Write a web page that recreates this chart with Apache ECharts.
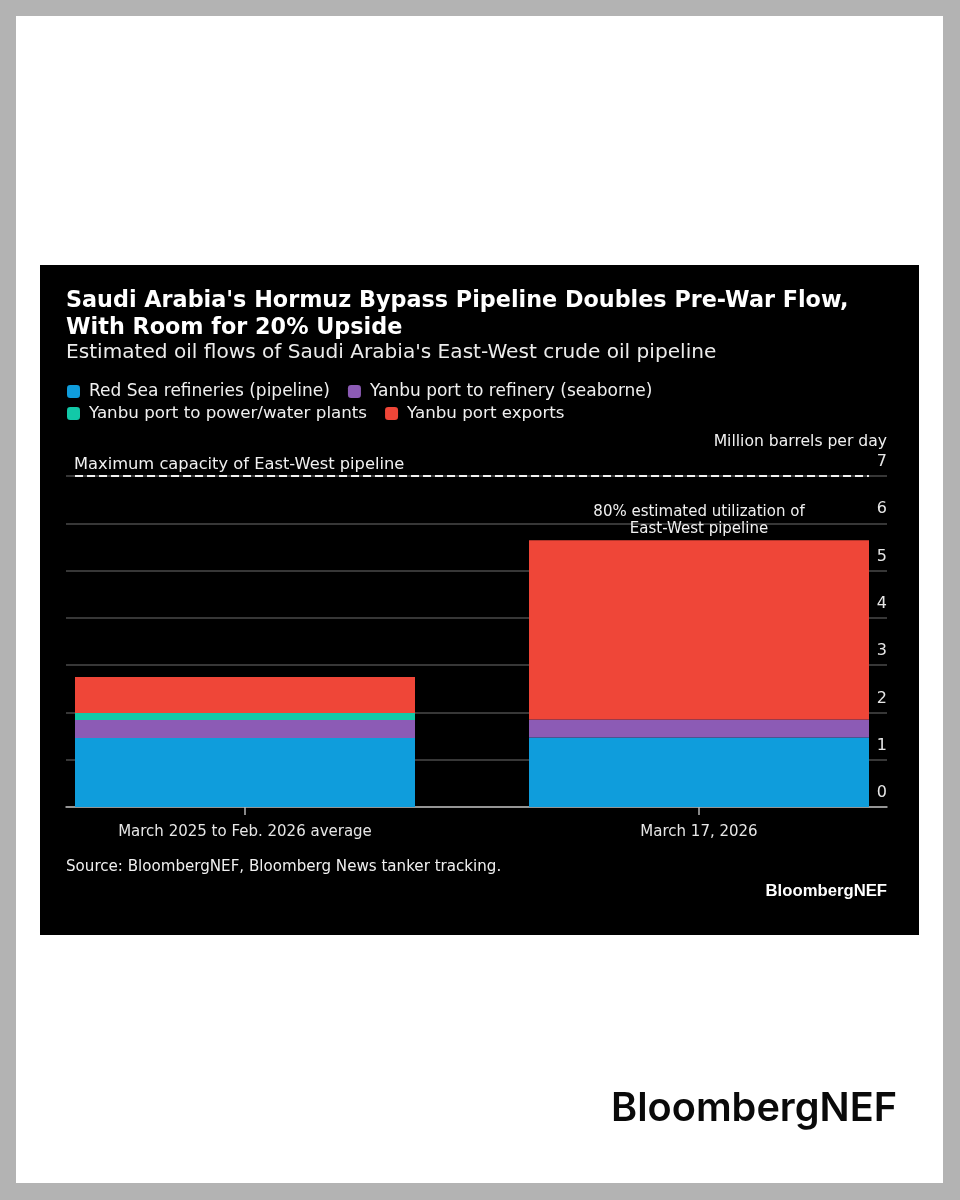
<!DOCTYPE html>
<html><head><meta charset="utf-8">
<style>html,body{margin:0;padding:0;background:#b3b3b3}#c{width:960px;height:1200px}</style>
<script src="https://cdn.jsdelivr.net/npm/echarts@6/dist/echarts.min.js"></script>
</head><body><div id="c"></div>
<script>
const categories = ['March 2025 to Feb. 2026 average', 'March 17, 2026'];
const redSea = [1.46, 1.47];
const portRefinery = [0.38, 0.38];
const powerWater = [0.15, 0];
const exportsYanbu = [0.76, 3.79];
const capacity = 7;
const yTicks = [0, 1, 2, 3, 4, 5, 6, 7];

const titleText = "Saudi Arabia's Hormuz Bypass Pipeline Doubles Pre-War Flow,\nWith Room for 20% Upside";
const subtitleText = "Estimated oil flows of Saudi Arabia's East-West crude oil pipeline";
const unitText = 'Million barrels per day';
const sourceText = 'Source: BloombergNEF, Bloomberg News tanker tracking.';

const names = ['Red Sea refineries (pipeline)', 'Yanbu port to refinery (seaborne)', 'Yanbu port to power/water plants', 'Yanbu port exports'];
const colors = ['#0f9ddc', '#8c5bb5', '#12c9a8', '#ef4638'];
const values = [redSea, portRefinery, powerWater, exportsYanbu];

const font = '"DejaVu Sans"';

function legend(items, left, top, size) {
  return { data: items, left, top, orient: 'horizontal', itemWidth: 13, itemHeight: 13, itemGap: 18,
    icon: 'roundRect', padding: 0, selectedMode: false,
    textStyle: { color: '#f0f0f0', fontFamily: font, fontSize: size, padding: [0, 0, 0, 4] } };
}
function txt(x, y, text, size, extra) {
  return { type: 'text', x, y, z: 50, silent: true,
    style: Object.assign({ text, fill: '#f0f0f0', fontFamily: font, fontSize: size }, extra || {}) };
}

const chart = echarts.init(document.getElementById('c'), null, { renderer: 'canvas' });
chart.setOption({
  animation: false,
  backgroundColor: '#b3b3b3',
  grid: [
    { left: 18, right: 34, top: 476, bottom: 393 },
    { left: 66, right: 73, top: 476, bottom: 393 }
  ],
  legend: [legend(names.slice(0, 2), 67, 383, 17), legend(names.slice(2), 67, 405, 16.7)],
  xAxis: [
    { type: 'category', gridIndex: 0, data: categories,
      axisLine: { show: false },
      axisTick: { show: true, alignWithLabel: true, length: 8, lineStyle: { color: '#b5b5b5', width: 1.5 } },
      axisLabel: { margin: 18, color: '#e6e6e6', fontFamily: font, fontSize: 15 } },
    { type: 'value', gridIndex: 1, min: 0, max: 1, splitLine: { show: false },
      axisLine: { show: true, onZero: false, lineStyle: { color: '#b5b5b5', width: 1.5 } },
      axisTick: { show: false }, axisLabel: { show: false } }
  ],
  yAxis: [
    { type: 'value', gridIndex: 0, min: 0, max: 7, interval: 1, show: false },
    { type: 'value', gridIndex: 1, position: 'right', min: yTicks[0], max: yTicks[yTicks.length - 1], interval: 1,
      axisLine: { show: false }, axisTick: { show: false },
      splitLine: { show: true, lineStyle: { color: '#4a4a4a', width: 1.5 } },
      axisLabel: { inside: true, margin: 0, align: 'right', verticalAlign: 'bottom', color: '#e6e6e6',
        fontFamily: font, fontSize: 16, lineHeight: 28, showMinLabel: true, showMaxLabel: true } }
  ],
  series: names.map((name, i) => ({
    name, type: 'bar', stack: 'flows', barWidth: 340, xAxisIndex: 0, yAxisIndex: 0,
    itemStyle: { color: colors[i] },
    data: values[i]
  })).concat([{
    name: 'Maximum capacity', type: 'line', xAxisIndex: 1, yAxisIndex: 1, symbol: 'none', silent: true, z: 5,
    lineStyle: { color: '#f2f2f2', type: [8, 4], width: 2 },
    data: [[0.011, capacity], [0.978, capacity]]
  }]),
  graphic: [
    { type: 'rect', z: -10, shape: { x: 16, y: 16, width: 927, height: 1167 }, style: { fill: '#ffffff' } },
    { type: 'rect', z: -9, shape: { x: 40, y: 265, width: 879, height: 670 }, style: { fill: '#000000' } },
    txt(66, 288, titleText, 22.3, { fontWeight: 'bold', fill: '#ffffff', lineHeight: 27 }),
    txt(66, 343, subtitleText, 20.1, { fill: '#ececec' }),
    txt(887, 434, unitText, 15.6, { align: 'right' }),
    txt(74, 457, 'Maximum capacity of East-West pipeline', 16.3),
    txt(699, 504, '80% estimated utilization of\nEast-West pipeline', 15, { align: 'center', lineHeight: 17 }),
    txt(66, 860, sourceText, 15.1),
    txt(887, 883, 'BloombergNEF', 16.7, { align: 'right', fontFamily: '"Liberation Sans"', fontWeight: 'bold', fill: '#ffffff' }),
    txt(611, 1089, 'BloombergNEF', 39.7, { fontFamily: 'Inter', fontWeight: 600, fill: '#0a0a0a' })
  ]
});
</script></body></html>
